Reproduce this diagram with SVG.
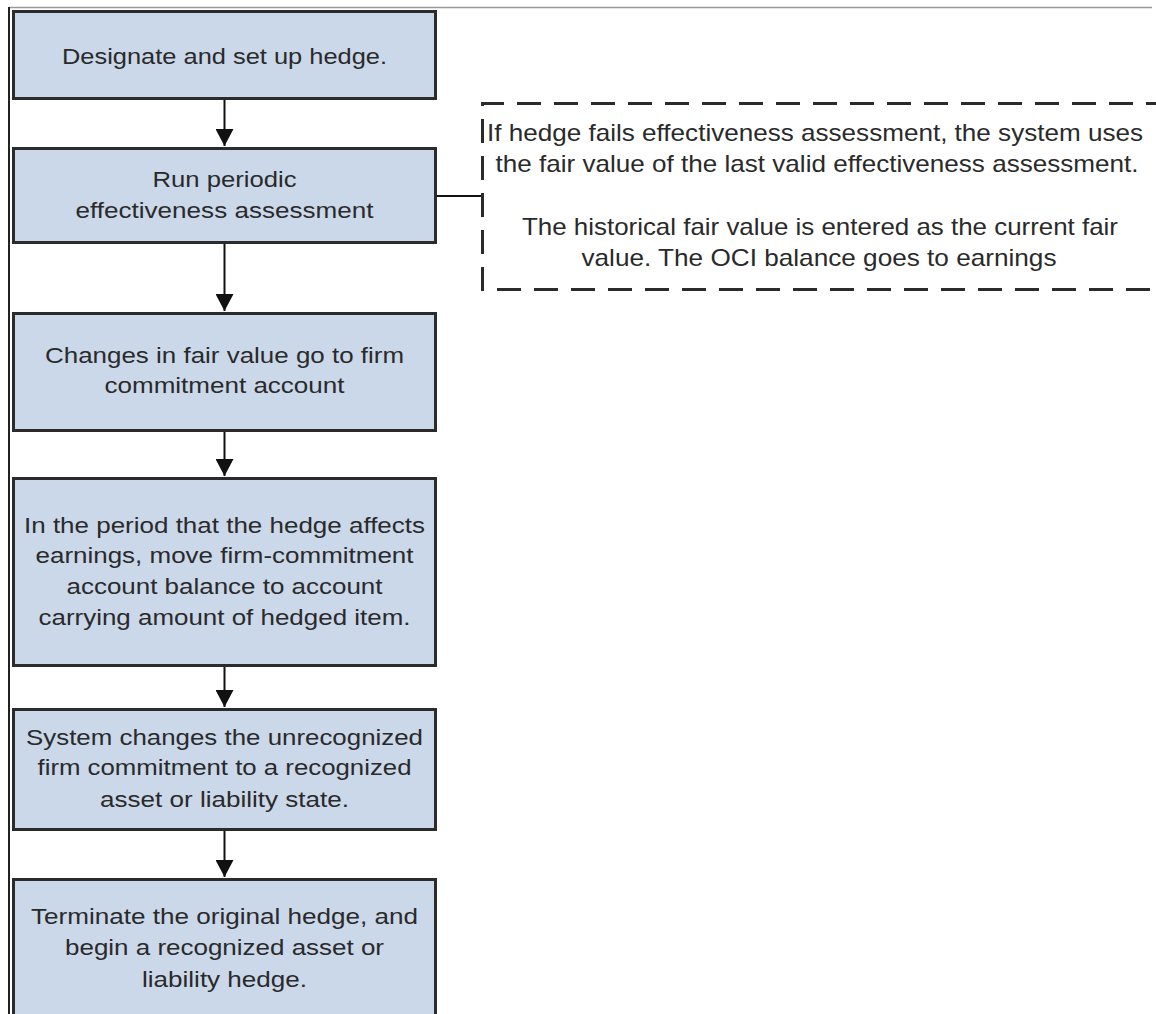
<svg xmlns="http://www.w3.org/2000/svg" width="1156" height="1014" viewBox="0 0 1156 1014">
<defs>
<style>
.box{fill:#cbd8ea;stroke:#2b2b2b;stroke-width:3}
.t{font-family:"Liberation Sans",Arial,sans-serif;font-size:22px;fill:#2a2a2a;text-anchor:middle}
.d{font-family:"Liberation Sans",Arial,sans-serif;font-size:24px;fill:#2a2a2a;text-anchor:middle}
.conn{stroke:#111;stroke-width:2;fill:none}
.dash{fill:none;stroke:#2b2b2b;stroke-width:3;stroke-dasharray:24 13}
</style>
<marker id="arr" markerWidth="18" markerHeight="18" refX="17" refY="9" orient="auto" markerUnits="userSpaceOnUse">
<path d="M0,0 L17,9 L0,18 Z" fill="#111"/>
</marker>
</defs>
<rect width="1156" height="1014" fill="#fff"/>
<g id="frame">
<line x1="9" y1="7.5" x2="1152" y2="7.5" stroke="#999" stroke-width="1.5"/>
<line x1="9" y1="7" x2="9" y2="1014" stroke="#222" stroke-width="2"/>
</g>
<g id="connectors">
<line class="conn" x1="224.5" y1="99" x2="224.5" y2="146" marker-end="url(#arr)"/>
<line class="conn" x1="224.5" y1="244" x2="224.5" y2="311" marker-end="url(#arr)"/>
<line class="conn" x1="224.5" y1="432" x2="224.5" y2="476" marker-end="url(#arr)"/>
<line class="conn" x1="224.5" y1="667" x2="224.5" y2="707" marker-end="url(#arr)"/>
<line class="conn" x1="224.5" y1="831" x2="224.5" y2="877" marker-end="url(#arr)"/>
<line class="conn" x1="437" y1="196" x2="481" y2="196"/>
</g>
<g id="n1">
<rect class="box" x="13.5" y="11.5" width="422" height="87"/>
<text class="t" x="224.5" y="64" textLength="325" lengthAdjust="spacingAndGlyphs">Designate and set up hedge.</text>
</g>
<g id="n2">
<rect class="box" x="13.5" y="148.5" width="422" height="94"/>
<text class="t" x="224.5" y="187" textLength="144" lengthAdjust="spacingAndGlyphs">Run periodic</text>
<text class="t" x="224.5" y="218" textLength="298" lengthAdjust="spacingAndGlyphs">effectiveness assessment</text>
</g>
<g id="n3">
<rect class="box" x="13.5" y="313.5" width="422" height="117"/>
<text class="t" x="224.5" y="363" textLength="359" lengthAdjust="spacingAndGlyphs">Changes in fair value go to firm</text>
<text class="t" x="224.5" y="393" textLength="240" lengthAdjust="spacingAndGlyphs">commitment account</text>
</g>
<g id="n4">
<rect class="box" x="13.5" y="478.5" width="422" height="187"/>
<text class="t" x="224.5" y="533" textLength="401" lengthAdjust="spacingAndGlyphs">In the period that the hedge affects</text>
<text class="t" x="224.5" y="563" textLength="378" lengthAdjust="spacingAndGlyphs">earnings, move firm-commitment</text>
<text class="t" x="224.5" y="594" textLength="316" lengthAdjust="spacingAndGlyphs">account balance to account</text>
<text class="t" x="224.5" y="625" textLength="372" lengthAdjust="spacingAndGlyphs">carrying amount of hedged item.</text>
</g>
<g id="n5">
<rect class="box" x="13.5" y="709.5" width="422" height="120"/>
<text class="t" x="224.5" y="745" textLength="397" lengthAdjust="spacingAndGlyphs">System changes the unrecognized</text>
<text class="t" x="224.5" y="775" textLength="374" lengthAdjust="spacingAndGlyphs">firm commitment to a recognized</text>
<text class="t" x="224.5" y="807" textLength="249" lengthAdjust="spacingAndGlyphs">asset or liability state.</text>
</g>
<g id="n6">
<rect class="box" x="13.5" y="879.5" width="422" height="140"/>
<text class="t" x="224.5" y="924" textLength="387" lengthAdjust="spacingAndGlyphs">Terminate the original hedge, and</text>
<text class="t" x="224.5" y="955" textLength="319" lengthAdjust="spacingAndGlyphs">begin a recognized asset or</text>
<text class="t" x="224.5" y="987" textLength="165" lengthAdjust="spacingAndGlyphs">liability hedge.</text>
</g>
<g id="note">
<path class="dash" d="M1170,103.5 L482.5,103.5 L482.5,289.5 L1170,289.5"/>
<text class="d" x="815" y="141" textLength="656" lengthAdjust="spacingAndGlyphs">If hedge fails effectiveness assessment, the system uses</text>
<text class="d" x="817" y="172" textLength="643" lengthAdjust="spacingAndGlyphs">the fair value of the last valid effectiveness assessment.</text>
<text class="d" x="820" y="235" textLength="596" lengthAdjust="spacingAndGlyphs">The historical fair value is entered as the current fair</text>
<text class="d" x="819" y="266" textLength="475" lengthAdjust="spacingAndGlyphs">value. The OCI balance goes to earnings</text>
</g>
</svg>
